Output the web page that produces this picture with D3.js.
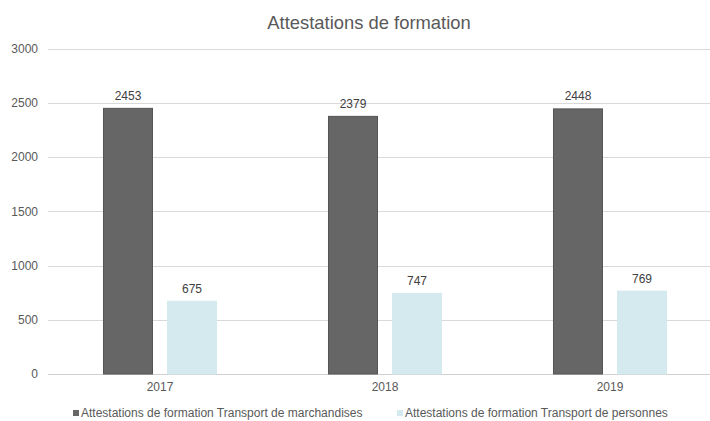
<!DOCTYPE html>
<html>
<head>
<meta charset="utf-8">
<script src="https://cdn.jsdelivr.net/npm/d3@7"></script>
<style>
  body { margin: 0; background: #fff; }
  svg text { font-family: "Liberation Sans", Arial, sans-serif; }
</style>
</head>
<body>
<svg id="chart" width="710" height="421"></svg>
<script>
'use strict'

const title = 'Attestations de formation'
const years = ['2017', '2018', '2019']
const seriesNames = [
  'Attestations de formation Transport de marchandises',
  'Attestations de formation Transport de personnes'
]
const marchandises = [2453, 2379, 2448]
const personnes = [675, 747, 769]
const yTicks = [0, 500, 1000, 1500, 2000, 2500, 3000]

const colors = ['#666666', '#d5eaee']
const strokes = ['#555555', '#d5eaee']

const svg = d3.select('#chart')

const rows = years.map((y, i) => ({ year: y, values: [marchandises[i], personnes[i]] }))

// plot geometry
const x0 = d3.scaleBand().domain(years).range([47.5, 722.5]).padding(0)
const x1 = d3.scaleBand().domain([0, 1]).range([0, x0.bandwidth()])
  .paddingInner(0.21875).paddingOuter(0.867)
const y = d3.scaleLinear().domain([0, 3000]).range([374, 48.5])

// gridlines
svg.append('g').attr('class', 'grid')
  .selectAll('line')
  .data(yTicks)
  .join('line')
  .attr('x1', 48).attr('x2', 710)
  .attr('y1', d => Math.round(y(d)) + 0.5)
  .attr('y2', d => Math.round(y(d)) + 0.5)
  .attr('stroke', d => d === 0 ? '#d0d0d0' : '#d9d9d9')
  .attr('stroke-width', 1)

// y axis labels
const yAxis = svg.append('g')
  .attr('transform', 'translate(38,0)')
  .call(d3.axisLeft(y).tickValues(yTicks).tickFormat(d3.format('d')).tickSize(0).tickPadding(0))
yAxis.select('.domain').remove()
yAxis.selectAll('text')
  .attr('fill', '#595959')
  .attr('font-size', '12px')

// x axis labels
const xAxis = svg.append('g')
  .attr('transform', 'translate(0,380)')
  .call(d3.axisBottom(x0).tickSize(0).tickPadding(2))
xAxis.select('.domain').remove()
xAxis.selectAll('text')
  .attr('fill', '#595959')
  .attr('font-size', '12px')

// bars
const groups = svg.append('g').attr('class', 'bars')
  .selectAll('g')
  .data(rows)
  .join('g')
  .attr('transform', d => `translate(${x0(d.year)},0)`)

groups.selectAll('rect')
  .data(d => d.values.map((v, i) => ({ v, i })))
  .join('rect')
  .attr('x', d => x1(d.i) + 0.5)
  .attr('y', d => y(d.v) + 0.5)
  .attr('width', x1.bandwidth() - 1)
  .attr('height', d => y(0) - y(d.v) - 0.5)
  .attr('fill', d => colors[d.i])
  .attr('stroke', d => strokes[d.i])
  .attr('stroke-width', 1)

// value labels
groups.selectAll('text.value')
  .data(d => d.values.map((v, i) => ({ v, i })))
  .join('text')
  .attr('class', 'value')
  .attr('x', d => x1(d.i) + x1.bandwidth() / 2)
  .attr('y', d => y(d.v) - 8)
  .attr('text-anchor', 'middle')
  .attr('fill', '#404040')
  .attr('font-size', '12px')
  .text(d => d.v)

// title
svg.append('text')
  .attr('x', 369)
  .attr('y', 29)
  .attr('text-anchor', 'middle')
  .attr('fill', '#595959')
  .attr('font-size', '18.4px')
  .text(title)

// legend
const legendX = [73, 397]
const legend = svg.append('g').attr('class', 'legend')
  .selectAll('g')
  .data(seriesNames)
  .join('g')
  .attr('transform', (d, i) => `translate(${legendX[i]},417)`)

legend.append('rect')
  .attr('x', 0).attr('y', -7)
  .attr('width', 6).attr('height', 6)
  .attr('fill', (d, i) => colors[i])

legend.append('text')
  .attr('x', 8)
  .attr('y', 0)
  .attr('fill', '#595959')
  .attr('font-size', '12px')
  .text(d => d)
</script>
</body>
</html>
